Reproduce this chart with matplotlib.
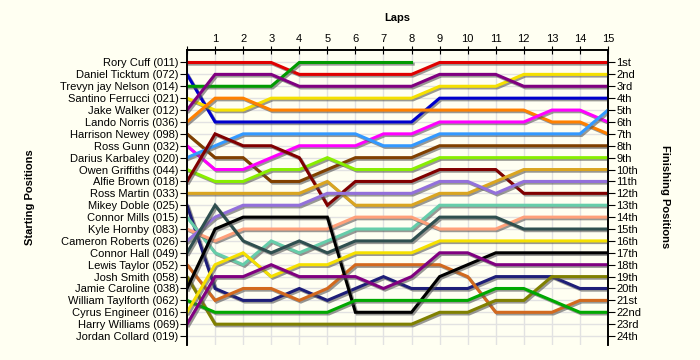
import matplotlib
matplotlib.use("Agg")
import matplotlib.pyplot as plt
import matplotlib.patheffects as pe

plt.rcParams['font.family'] = ['Liberation Sans', 'DejaVu Sans']

# starting grid, top to bottom
drivers = ["Rory Cuff (011)", "Daniel Ticktum (072)", "Trevyn jay Nelson (014)",
           "Santino Ferrucci (021)", "Jake Walker (012)", "Lando Norris (036)",
           "Harrison Newey (098)", "Ross Gunn (032)", "Darius Karbaley (020)",
           "Owen Griffiths (044)", "Alfie Brown (018)", "Ross Martin (033)",
           "Mikey Doble (025)", "Connor Mills (015)", "Kyle Hornby (083)",
           "Cameron Roberts (026)", "Connor Hall (049)", "Lewis Taylor (052)",
           "Josh Smith (058)", "Jamie Caroline (038)", "William Taylforth (062)",
           "Cyrus Engineer (016)", "Harry Williams (069)", "Jordan Collard (019)"]

finish_labels = ["1st", "2nd", "3rd", "4th", "5th", "6th", "7th", "8th", "9th", "10th",
                 "11th", "12th", "13th", "14th", "15th", "16th", "17th", "18th", "19th",
                 "20th", "21st", "22nd", "23rd", "24th"]

laps = list(range(16))

# position after each lap (lap 0 = grid)
positions = {
    "Rory Cuff (011)":         [1, 1, 1, 1, 2, 2, 2, 2, 2, 1, 1, 1, 1, 1, 1, 1],
    "Daniel Ticktum (072)":    [2, 6, 6, 6, 6, 6, 6, 6, 6, 4, 4, 4, 4, 4, 4, 4],
    "Trevyn jay Nelson (014)": [3, 3, 3, 3, 1, 1, 1, 1, 1],
    "Santino Ferrucci (021)":  [4, 5, 5, 4, 4, 4, 4, 4, 4, 3, 3, 3, 2, 2, 2, 2],
    "Jake Walker (012)":       [5, 2, 2, 2, 3, 3, 3, 3, 3, 2, 2, 2, 3, 3, 3, 3],
    "Lando Norris (036)":      [6, 4, 4, 5, 5, 5, 5, 5, 5, 5, 5, 5, 5, 6, 6, 7],
    "Harrison Newey (098)":    [7, 9, 9, 11, 11, 10, 9, 9, 9, 8, 8, 8, 8, 8, 8, 8],
    "Ross Gunn (032)":         [8, 10, 10, 9, 8, 8, 8, 7, 7, 6, 6, 6, 6, 5, 5, 6],
    "Darius Karbaley (020)":   [9, 8, 7, 7, 7, 7, 7, 8, 8, 7, 7, 7, 7, 7, 7, 5],
    "Owen Griffiths (044)":    [10, 11, 11, 10, 10, 9, 10, 10, 10, 9, 9, 9, 9, 9, 9, 9],
    "Alfie Brown (018)":       [11, 7, 8, 8, 9, 13, 11, 11, 11, 10, 10, 10, 12, 12, 12, 12],
    "Ross Martin (033)":       [12, 12, 12, 12, 12, 11, 13, 13, 13, 12, 12, 11, 10, 10, 10, 10],
    "Mikey Doble (025)":       [13, 20, 21, 21, 20, 21, 20, 19, 20, 20, 20, 19, 19, 19, 20, 20],
    "Connor Mills (015)":      [14, 17, 18, 16, 17, 16, 15, 15, 15, 13, 13, 13, 13, 13, 13, 13],
    "Kyle Hornby (083)":       [15, 16, 15, 15, 15, 15, 14, 14, 14, 15, 15, 15, 14, 14, 14, 14],
    "Cameron Roberts (026)":   [16, 14, 13, 13, 13, 12, 12, 12, 12, 11, 11, 12, 11, 11, 11, 11],
    "Connor Hall (049)":       [17, 13, 16, 17, 16, 17, 16, 16, 16, 14, 14, 14, 15, 15, 15, 15],
    "Lewis Taylor (052)":      [18, 21, 20, 20, 21, 20, 18, 18, 18, 18, 19, 22, 22, 22, 21, 21],
    "Josh Smith (058)":        [19, 23, 23, 23, 23, 23, 23, 23, 23, 22, 22, 21, 21, 19, 19, 19],
    "Jamie Caroline (038)":    [20, 15, 14, 14, 14, 14, 22, 22, 22, 19, 18, 17, 17, 17, 17, 17],
    "William Taylforth (062)": [21, 22, 22, 22, 22, 22, 21, 21, 21, 21, 21, 20, 20, 21, 22, 22],
    "Cyrus Engineer (016)":    [22, 18, 17, 19, 18, 18, 17, 17, 17, 16, 16, 16, 16, 16, 16, 16],
    "Harry Williams (069)":    [23, 19, 19, 18, 19, 19, 19, 20, 19, 17, 17, 18, 18, 18, 18, 18],
}

colors = ["#E00000", "#0000CC", "#009A00", "#F5E000", "#800080", "#FF8000",
          "#804000", "#FF00FF", "#3399FF", "#88EE00", "#800000", "#DAA520",
          "#1E1E78", "#66CDAA", "#FFA07A", "#9370DB", "#2F4F4F", "#D2691E",
          "#808000", "#000000", "#00A800", "#F5E000", "#800080"]

bg = "#FFFFF2"
fig = plt.figure(figsize=(7, 3.6), dpi=100, facecolor=bg)
ax = fig.add_axes([187 / 700, 15 / 360, 421 / 700, 295 / 360])
ax.set_facecolor(bg)

shadow = [pe.SimpleLineShadow(offset=(1.2, -1.2), shadow_color="#555555", alpha=0.6),
          pe.Normal()]

for name, c in zip(drivers, colors):
    p = positions[name]
    ax.plot(laps[:len(p)], p, color=c, lw=2.2, path_effects=shadow,
            solid_joinstyle="miter", zorder=3)

ax.set_xlim(0, 15)
ax.set_ylim(24.75, -0.05)

ax.xaxis.tick_top()
ax.set_xticks(laps)
ax.set_xticklabels([""] + [str(l) for l in laps[1:]], fontsize=8)
ax.tick_params(axis="x", direction="inout", length=6, pad=1)
ax.set_xlabel("Laps", fontsize=8, fontweight="bold", labelpad=10)
ax.xaxis.set_label_position("top")

ax.set_yticks(range(1, 25))
ax.set_yticklabels(drivers, fontsize=8)
ax.tick_params(axis="y", direction="out", length=5, pad=1)
ax.grid(True, color="#E2E2E2", lw=1, zorder=0)

ax2 = ax.twinx()
ax2.set_ylim(ax.get_ylim())
ax2.set_yticks(range(1, 25))
ax2.set_yticklabels(finish_labels, fontsize=8)
ax2.tick_params(axis="y", direction="out", length=5, pad=1)

for a in (ax, ax2):
    a.spines["bottom"].set_visible(False)
    a.spines["top"].set_linewidth(1.2)
    a.spines["left"].set_linewidth(1.2)
    a.spines["right"].set_linewidth(1.2)

fig.text(30 / 700, 1 - 197 / 360, "Starting Positions", rotation=90, fontsize=8,
         fontweight="bold", ha="center", va="center")
fig.text(665 / 700, 1 - 197 / 360, "Finishing Positions", rotation=270, fontsize=8,
         fontweight="bold", ha="center", va="center")

fig.savefig("out.png", dpi=100, facecolor=bg)
